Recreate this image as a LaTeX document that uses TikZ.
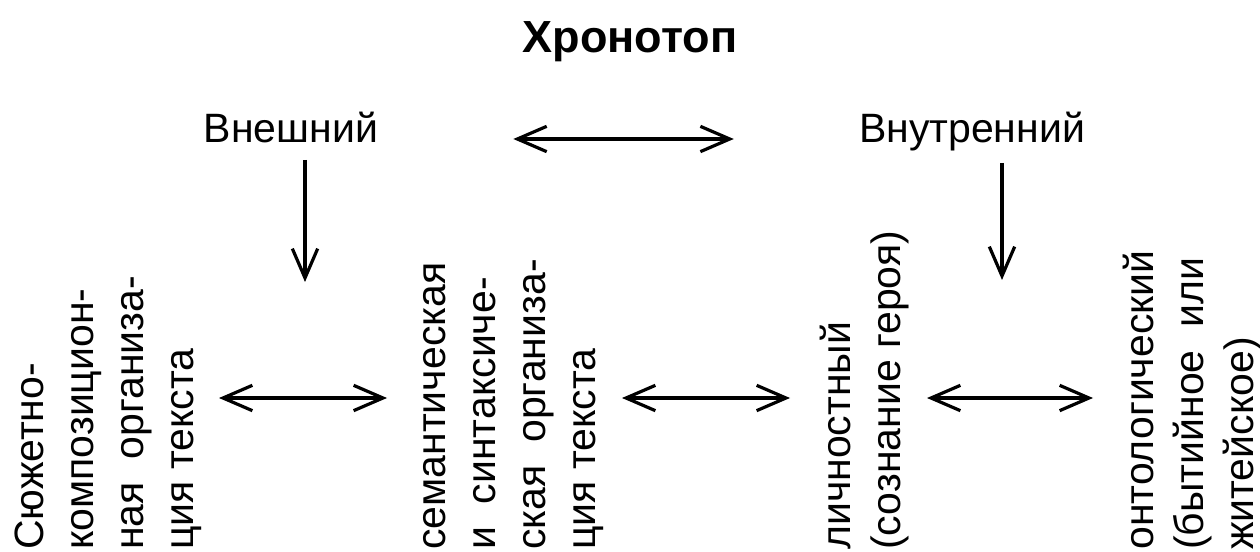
\documentclass[tikz,border=0pt]{standalone}
\usepackage{fontspec}
\setmainfont{Liberation Sans}
\usepackage{tikz}
\usetikzlibrary{arrows.meta}

\begin{document}
\begin{tikzpicture}[x=0.75pt,y=0.75pt,yscale=-1,xscale=1,
  lbl/.style={inner sep=0pt, text height=0.75em, text depth=0.2em, font=\fontsize{30.75}{37.5}\selectfont},
  col/.style={rotate=90, anchor=base west, align=left, inner sep=0pt, font=\fontsize{30.75}{37.5}\selectfont},
  arr/.style={line width=2.4pt, -{Straight Barb[length=22pt,width=19pt,line width=2.4pt]}},
  dbl/.style={line width=2.4pt, {Straight Barb[length=22pt,width=19pt,line width=2.4pt]}-{Straight Barb[length=22pt,width=19pt,line width=2.4pt]}}]
\useasboundingbox (0,0) rectangle (1260,552);

% Title
\node (title) at (630,42) [inner sep=0pt, font=\bfseries\fontsize{33.75}{40}\selectfont] {Хронотоп};

% Top row
\node (outer) [lbl] at (291,139) {Внешний};
\node (inner) [lbl] at (972,139) {Внутренний};

% Columns (anchored at the baseline of the last line)
\node (plotcomp) [col] at (193,550) {Сюжетно-\\композицион-\\ная~~организа-\\ция текста};
\node (semsyn) [col] at (595,550) {семантическая\\и~~синтаксиче-\\ская~~организа-\\ция текста};
\node (personal) [col] at (900,550) {личностный\\(сознание героя)};
\node (ontol) [col] at (1253,550) {онтологический\\(бытийное~~или\\житейское)};

% Arrow ends
\coordinate (d1a) at (305,160);
\coordinate (d1b) at (305,282);
\coordinate (d2a) at (1002,163);
\coordinate (d2b) at (1002,280);
\coordinate (h1a) at (219,398);
\coordinate (h1b) at (387,398);
\coordinate (h2a) at (622,398);
\coordinate (h2b) at (790,398);
\coordinate (h3a) at (927,398);
\coordinate (h3b) at (1093,398);

% Arrows
\draw [dbl, shorten <=135pt*0.75, shorten >=125pt*0.75] (outer) -- (inner);
\draw [arr] (d1a) -- (d1b);
\draw [arr] (d2a) -- (d2b);
\draw [dbl] (h1a) -- (h1b);
\draw [dbl] (h2a) -- (h2b);
\draw [dbl] (h3a) -- (h3b);

\end{tikzpicture}
\end{document}
